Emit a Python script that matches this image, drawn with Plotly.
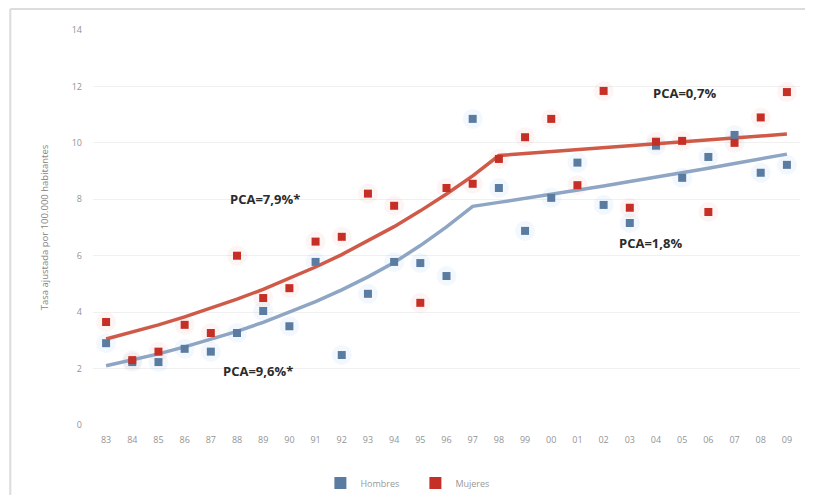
import plotly.graph_objects as go

years = ["83", "84", "85", "86", "87", "88", "89", "90", "91", "92", "93", "94", "95", "96",
         "97", "98", "99", "00", "01", "02", "03", "04", "05", "06", "07", "08", "09"]

hombres = [2.9, 2.23, 2.23, 2.7, 2.6, 3.26, 4.04, 3.5, 5.78, 2.48, 4.65, 5.78, 5.74, 5.28,
           10.85, 8.4, 6.88, 8.05, 9.3, 7.8, 7.16, 9.9, 8.76, 9.5, 10.28, 8.94, 9.22]
mujeres = [3.65, 2.3, 2.6, 3.55, 3.26, 6.0, 4.5, 4.85, 6.5, 6.67, 8.2, 7.77, 4.33, 8.4,
           8.55, 9.43, 10.2, 10.85, 8.5, 11.84, 7.7, 10.04, 10.07, 7.55, 10.0, 10.9, 11.8]

fit_hombres = [2.1, 2.3, 2.52, 2.77, 3.03, 3.32, 3.64, 3.99, 4.37, 4.79, 5.25, 5.76, 6.36, 7.02,
               7.75, 7.89, 8.03, 8.18, 8.32, 8.47, 8.63, 8.78, 8.94, 9.1, 9.27, 9.43, 9.6]
fit_mujeres = [3.05, 3.29, 3.55, 3.83, 4.13, 4.46, 4.81, 5.19, 5.6, 6.04, 6.52, 7.03, 7.59, 8.19,
               8.83, 9.55, 9.62, 9.69, 9.75, 9.82, 9.89, 9.96, 10.03, 10.1, 10.17, 10.24, 10.31]

y_ticks = [0, 2, 4, 6, 8, 10, 12, 14]

annotations_text = ["PCA=7,9%*", "PCA=9,6%*", "PCA=0,7%", "PCA=1,8%"]
annotations_pos = [(6.05, 8.0), (5.8, 1.92), (22.1, 11.75), (20.8, 6.45)]

BLUE = "#5b7ca1"
RED = "#c52f25"
BLUE_LINE = "#8ea5c4"
RED_LINE = "#cf5a48"

fig = go.Figure()

# soft halos around markers
fig.add_trace(go.Scatter(x=years, y=hombres, mode="markers", showlegend=False, hoverinfo="skip",
                         marker=dict(symbol="circle", size=20, color="rgba(150,195,235,0.12)")))
fig.add_trace(go.Scatter(x=years, y=mujeres, mode="markers", showlegend=False, hoverinfo="skip",
                         marker=dict(symbol="circle", size=20, color="rgba(240,155,145,0.10)")))

fig.add_trace(go.Scatter(x=years, y=fit_hombres, mode="lines", showlegend=False,
                         line=dict(color=BLUE_LINE, width=3.5)))
fig.add_trace(go.Scatter(x=years, y=fit_mujeres, mode="lines", showlegend=False,
                         line=dict(color=RED_LINE, width=3.5)))

fig.add_trace(go.Scatter(x=years, y=hombres, mode="markers", name="Hombres",
                         marker=dict(symbol="square", size=8, color=BLUE)))
fig.add_trace(go.Scatter(x=years, y=mujeres, mode="markers", name="Mujeres",
                         marker=dict(symbol="square", size=8, color=RED)))

for txt, (xi, yv) in zip(annotations_text, annotations_pos):
    fig.add_annotation(x=xi, y=yv, xref="x", yref="y", text="<b>" + txt + "</b>", showarrow=False,
                       font=dict(family="Open Sans", size=13, color="#2b2b2b"))

# faint outer frame (scanned chart border)
fig.add_shape(type="line", xref="paper", yref="paper", x0=-0.117, x1=-0.117, y0=-0.2, y1=1.053,
              line=dict(color="#dcdcdc", width=2))
fig.add_shape(type="line", xref="paper", yref="paper", x0=-0.117, x1=1.03, y0=1.053, y1=1.053,
              line=dict(color="#dcdcdc", width=2))

# the page is drawn with the browser's 8px body margin, so margins are offset by 8px
fig.update_layout(
    width=813, height=495,
    margin=dict(l=85, r=21, t=22, b=78, autoexpand=False),
    paper_bgcolor="white", plot_bgcolor="white",
    font=dict(family="Open Sans", size=9, color="#9a9a9a"),
    xaxis=dict(type="category", range=[-0.5, 26.5], showgrid=False, zeroline=False,
               showline=False, ticks="", ticklabelstandoff=8, automargin=False,
               tickfont=dict(size=9, color="#949494")),
    yaxis=dict(range=[0, 14], tickvals=y_ticks, showgrid=True, gridcolor="#f0f0f0",
               zeroline=False, showline=False, ticks="", ticklabelstandoff=10, automargin=False,
               tickfont=dict(size=9, color="#949494"),
               title=dict(text="Tasa ajustada por 100.000 habitantes", standoff=21,
                          font=dict(size=9.5, color="#858585"))),
    legend=dict(orientation="h", x=0.456, xanchor="center", y=-0.147, yanchor="middle",
                font=dict(size=9, color="#999999"), itemsizing="constant", entrywidth=50),
)

fig.write_html("out.html")
